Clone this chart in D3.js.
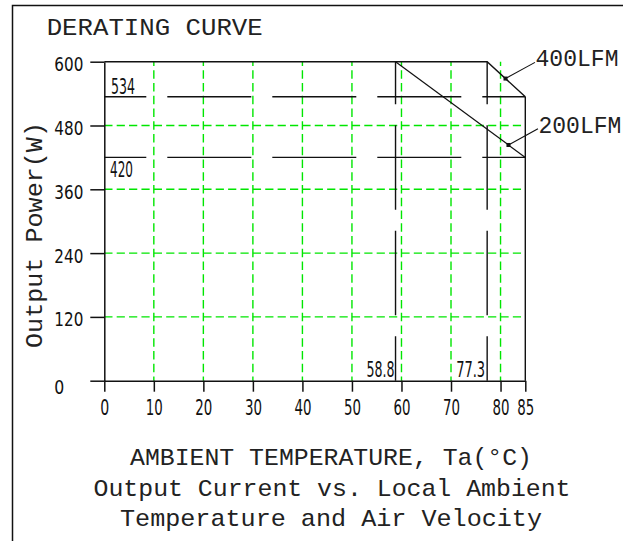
<!DOCTYPE html>
<html>
<head>
<meta charset="utf-8">
<script src="https://cdn.jsdelivr.net/npm/d3@7"></script>
<style>
  html, body { margin: 0; padding: 0; background: #fff; }
  svg { display: block; }
  .cad { font-family: "Liberation Mono", "DejaVu Sans Mono", monospace; fill: #222; }
  .num { font-family: "Liberation Sans Narrow", "DejaVu Sans Condensed", "Liberation Sans", sans-serif; fill: #111; }
</style>
</head>
<body>
<script>
// ---------------- data ----------------
const title = "DERATING CURVE";
const xLabel = "AMBIENT TEMPERATURE, Ta(°C)";
const captionLines = ["Output Current vs. Local Ambient", "Temperature and Air Velocity"];
const yLabel = "Output Power(W)";

const xTicks = [0, 10, 20, 30, 40, 50, 60, 70, 80, 85];
const yTicks = [0, 120, 240, 360, 480, 600];
const xGrid = [10, 20, 30, 40, 50, 60, 70, 80];
const yGrid = [120, 240, 360, 480];

const seriesNames = ["400LFM", "200LFM"];
const temp400 = [0, 77.3, 85];
const power400 = [600, 600, 534];
const temp200 = [0, 58.8, 85];
const power200 = [600, 600, 420];

const refPowers = [534, 420];        // horizontal reference lines
const refTemps = [58.8, 77.3];       // vertical reference lines
const leaderTemps = [81.0, 81.6];    // where leader dots sit on the curves

// ---------------- layout ----------------
const W = 623, H = 541;
const x = d3.scaleLinear().domain([0, 85]).range([104.3, 525.3]);
const y = d3.scaleLinear().domain([0, 600]).range([380.7, 61.7]);

const svg = d3.select("body").append("svg").attr("width", W).attr("height", H);

// frame
svg.append("path").attr("d", "M12.5,541 V5.5 H623")
  .attr("fill", "none").attr("stroke", "#111").attr("stroke-width", 1.5);

function txt(cls, s, px, py, len, anchor, size) {
  return svg.append("text").attr("class", cls)
    .attr("x", px).attr("y", py)
    .attr("text-anchor", anchor || "start")
    .attr("font-size", size)
    .attr("textLength", len).attr("lengthAdjust", "spacingAndGlyphs")
    .text(s);
}

// title
txt("cad", title, 46.7, 35, 216, "start", 24);

// green grid
const grid = svg.append("g").attr("stroke", "#00e600").attr("stroke-width", 1.4).attr("fill", "none");
grid.selectAll("line.v").data(xGrid).join("line").attr("class", "v")
  .attr("x1", d => x(d)).attr("x2", d => x(d))
  .attr("y1", y(600)).attr("y2", y(0))
  .attr("stroke-dasharray", "8.5 4.26").attr("stroke-dashoffset", 4.25);
grid.selectAll("line.h").data(yGrid).join("line").attr("class", "h")
  .attr("x1", x(0)).attr("x2", x(85))
  .attr("y1", d => y(d)).attr("y2", d => y(d))
  .attr("stroke-dasharray", "8.2 4.18").attr("stroke-dashoffset", 0);

// black dashed reference lines
const ref = svg.append("g").attr("stroke", "#111").attr("stroke-width", 1.4).attr("fill", "none");
ref.selectAll("line.rh").data(refPowers).join("line").attr("class", "rh")
  .attr("x1", x(0)).attr("x2", x(85))
  .attr("y1", d => y(d)).attr("y2", d => y(d))
  .attr("stroke-dasharray", "84 21").attr("stroke-dashoffset", 42);
ref.selectAll("line.rv").data(refTemps).join("line").attr("class", "rv")
  .attr("x1", d => x(d)).attr("x2", d => x(d))
  .attr("y1", y(600)).attr("y2", y(0))
  .attr("stroke-dasharray", "84.5 21").attr("stroke-dashoffset", 42);

// curves
const line = d3.line().x(d => x(d[0])).y(d => y(d[1]));
const c400 = temp400.map((t, i) => [t, power400[i]]);
const c200 = temp200.map((t, i) => [t, power200[i]]);
svg.append("path").attr("d", line(c400)).attr("fill", "none").attr("stroke", "#111").attr("stroke-width", 1.4);
svg.append("path").attr("d", line(c200.slice(1))).attr("fill", "none").attr("stroke", "#111").attr("stroke-width", 1.2);
// right boundary at 85 down to axis
svg.append("line").attr("x1", x(85)).attr("x2", x(85)).attr("y1", y(power400[2])).attr("y2", y(0))
  .attr("stroke", "#111").attr("stroke-width", 1.4);

// axes
const yAxis = svg.append("g").attr("transform", `translate(${x(0)},0)`)
  .call(d3.axisLeft(y).tickValues(yTicks).tickSize(14).tickSizeOuter(0).tickFormat(d3.format("d")));
const xAxis = svg.append("g").attr("transform", `translate(0,${y(0)})`)
  .call(d3.axisBottom(x).tickValues(xTicks).tickSize(11).tickSizeOuter(0).tickFormat(d3.format("d")));
[yAxis, xAxis].forEach(g => {
  g.selectAll("path.domain").attr("stroke", "#111").attr("stroke-width", 1.5);
  g.selectAll(".tick line").attr("stroke", "#111").attr("stroke-width", 1.5);
});
yAxis.selectAll(".tick text")
  .attr("class", "num").attr("font-family", null).attr("font-size", 20)
  .attr("text-anchor", "start").attr("fill", "#111")
  .attr("x", -50).attr("dy", d => d === 0 ? "0.39em" : "0.37em")
  .attr("y", d => d === 0 ? 5 : 1.6)
  .attr("textLength", d => String(d).length === 1 ? 10 : 29)
  .attr("lengthAdjust", "spacingAndGlyphs");
xAxis.selectAll(".tick text")
  .attr("class", "num").attr("font-family", null).attr("font-size", 21)
  .attr("fill", "#111").attr("y", 34.3).attr("dy", 0)
  .attr("textLength", d => String(d).length === 1 ? 9 : 17)
  .attr("lengthAdjust", "spacingAndGlyphs");

// small reference value labels
txt("num", String(refPowers[0]), 111, y(refPowers[0]) - 2.3, 24, "start", 22);
txt("num", String(refPowers[1]), 110, y(refPowers[1]) + 19.4, 23, "start", 22);
txt("num", String(refTemps[0]), x(refTemps[0]) - 1, y(0) - 3.7, 28, "end", 22);
txt("num", String(refTemps[1]), x(refTemps[1]) - 2, y(0) - 3.7, 29, "end", 22);

// leaders & curve labels
const curvesArr = [c400, c200];
leaderTemps.forEach((t, i) => {
  const c = curvesArr[i];
  const a = c[1], b = c[2];
  const p = a[1] + (b[1] - a[1]) * (t - a[0]) / (b[0] - a[0]);
  const dx = x(t), dy = y(p);
  const ex = dx + 29.5, ey = dy - 16.2;
  svg.append("line").attr("x1", dx).attr("y1", dy).attr("x2", ex).attr("y2", ey)
    .attr("stroke", "#111").attr("stroke-width", 1.1);
  svg.append("rect").attr("x", dx - 2).attr("y", dy - 2).attr("width", 4).attr("height", 4).attr("fill", "#111");
  txt("cad", seriesNames[i], ex + 0.5, ey + 4, 83, "start", 23);
});

// axis title & captions
txt("cad", xLabel, 331, 465, 402, "middle", 24);
txt("cad", captionLines[0], 332, 495.5, 477, "middle", 24);
txt("cad", captionLines[1], 331, 525.5, 422, "middle", 24);

// y label
svg.append("text").attr("class", "cad")
  .attr("transform", "translate(42,235) rotate(-90)")
  .attr("text-anchor", "middle").attr("font-size", 24)
  .attr("textLength", 226).attr("lengthAdjust", "spacingAndGlyphs")
  .text(yLabel);
</script>
</body>
</html>
